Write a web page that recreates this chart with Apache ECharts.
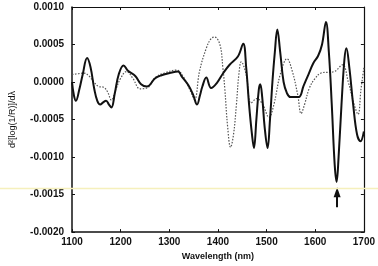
<!DOCTYPE html>
<html>
<head>
<meta charset="utf-8">
<script src="https://cdn.jsdelivr.net/npm/echarts@6/dist/echarts.min.js"></script>
<style>
  html, body { margin: 0; padding: 0; background: #fff; }
  #chart { width: 378px; height: 266px; }
</style>
</head>
<body>
<div id="chart"></div>
<script>
// wavelength (nm) / second derivative values
var solidNm = [1100, 1104, 1108, 1115, 1122, 1131, 1138, 1146, 1152, 1158, 1164, 1170, 1176, 1181, 1188, 1196, 1206, 1215, 1230, 1242,
    1254, 1271, 1284, 1301, 1318, 1325, 1339, 1349, 1357, 1363, 1368, 1376, 1386, 1398, 1411, 1424, 1441, 1452, 1458, 1464,
    1470, 1474, 1479, 1484, 1487, 1491, 1496, 1502, 1507, 1512, 1517, 1522, 1528, 1535, 1542, 1549, 1566, 1576, 1586, 1596,
    1606, 1614, 1622, 1628, 1634, 1640, 1644, 1648, 1654, 1660, 1664, 1670, 1678, 1686, 1693, 1700];
var solidVal = [0.0000, -0.00018, -0.00025, -0.0001, 0.0001, 0.00032, 0.0002, -0.0001, -0.00025, -0.0003, -0.00027, -0.00025, -0.0003, -0.00034, -0.00015, 0.0001, 0.00022, 0.00015, 0.00008, -0.00003,
    -0.00006, 0.00005, 0.00009, 0.00012, 0.00014, 0.00008, -0.00004, -0.00017, -0.0003, -0.00018, -0.00006, 0.00006, -0.00008, -0.00001, 0.00012, 0.00023, 0.00034, 0.00051, 0.0002, -0.0003,
    -0.0007, -0.00088, -0.0005, -0.0001, -0.00003, -0.0002, -0.0006, -0.00088, -0.0005, 0.0000, 0.0004, 0.0007, 0.0004, 0.0000, -0.00015, -0.0002, -0.0002, -0.00005, 0.0001, 0.00025,
    0.00035, 0.0005, 0.0008, 0.0004, -0.0003, -0.0011, -0.00133, -0.001, -0.0003, 0.0003, 0.00045, 0.0002, -0.0003, -0.0007, -0.00079, -0.00066];

var dotNm = [1100, 1112, 1124, 1135, 1145, 1155, 1165, 1173, 1181, 1190, 1200, 1212, 1225, 1240, 1254, 1271, 1290, 1315, 1328, 1342,
    1352, 1362, 1376, 1386, 1393, 1404, 1410, 1414, 1420, 1426, 1432, 1438, 1443, 1448, 1458, 1468, 1480, 1492, 1505, 1515,
    1528, 1542, 1553, 1564, 1571, 1578, 1588, 1600, 1612, 1639, 1656, 1668, 1680, 1688, 1694, 1700];
var dotVal = [0.0001, 0.00011, 0.00012, 0.00008, 0.0, -0.00006, -0.00007, -0.00013, -0.00024, -0.0001, 0.00005, 0.00014, 0.00005, -0.00009, -0.00008, 0.00006, 0.00012, 0.00016, 0.00008, -0.0001,
    -0.00023, 0.00014, 0.00045, 0.00058, 0.0006, 0.0005, 0.0002, -0.00008, -0.0006, -0.00087, -0.0007, -0.0003, 0.0001, 0.00027, 0.0001, -0.00028, -0.00022, -0.0003, -0.00047, -0.0003,
    0.0001, 0.00031, 0.00014, -0.00017, -0.00042, -0.0003, -0.00008, 0.00005, 0.00012, 0.00014, 0.00023, 0.0, -0.0003, -0.00043, -0.0001, 0.00019];

// arrow under the 1645 nm band
var arrowNm = 1645;
var arrowFrom = -0.00167;
var arrowTo = -0.00147;

function pairs(xs, ys) {
    var res = [];
    for (var i = 0; i < xs.length; i++) {
        res.push([xs[i], ys[i]]);
    }
    return res;
}

var myChart = echarts.init(document.getElementById('chart'));

var axisFont = { color: '#111', fontFamily: 'Liberation Sans', fontWeight: 'bold', fontSize: 10 };

var option = {
    animation: false,
    backgroundColor: '#fff',
    grid: { left: 71, top: 7, right: 12, bottom: 33 },
    xAxis: [{
        type: 'value',
        min: 1100, max: 1700, interval: 100,
        name: 'Wavelength (nm)',
        nameLocation: 'middle',
        nameGap: 19,
        nameTextStyle: { color: '#111', fontFamily: 'Liberation Sans', fontWeight: 'bold', fontSize: 9 },
        axisLine: { onZero: false, lineStyle: { color: '#111', width: 1.5 } },
        axisTick: { inside: true, length: 3, lineStyle: { color: '#111' } },
        axisLabel: Object.assign({ margin: 5, formatter: function (v) { return String(v); } }, axisFont),
        splitLine: { show: false }
    }, {
        type: 'value', position: 'top',
        min: 1100, max: 1700, interval: 100,
        axisLine: { show: true, onZero: false, lineStyle: { color: '#111', width: 1.2 } },
        axisTick: { inside: true, length: 3, lineStyle: { color: '#111' } },
        axisLabel: { show: false },
        splitLine: { show: false }
    }],
    yAxis: [{
        type: 'value',
        min: -0.002, max: 0.001, interval: 0.0005,
        name: 'd\u00b2[log(1/R)]/d\u03bb',
        nameLocation: 'middle',
        nameGap: 55,
        nameTextStyle: { color: '#111', fontFamily: 'Liberation Sans', fontSize: 9 },
        axisLine: { show: true, onZero: false, lineStyle: { color: '#111', width: 1.5 } },
        axisTick: { show: true, inside: true, length: 3, lineStyle: { color: '#111' } },
        axisLabel: Object.assign({ margin: 8, formatter: function (v) { return v.toFixed(4); } }, axisFont),
        splitLine: { show: false }
    }, {
        type: 'value', position: 'right',
        min: -0.002, max: 0.001, interval: 0.0005,
        axisLine: { show: true, onZero: false, lineStyle: { color: '#111', width: 1.2 } },
        axisTick: { show: true, inside: true, length: 3, lineStyle: { color: '#111' } },
        axisLabel: { show: false },
        splitLine: { show: false }
    }],
    series: [{
        type: 'line',
        data: pairs(dotNm, dotVal),
        smooth: 0.4,
        showSymbol: false,
        lineStyle: { color: '#555', width: 1.2, type: [1.5, 1.5] }
    }, {
        type: 'line',
        data: pairs(solidNm, solidVal),
        smooth: 0.4,
        showSymbol: false,
        lineStyle: { color: '#111', width: 2 },
        markLine: {
            silent: true,
            symbol: ['none', 'triangle'],
            symbolSize: [7, 10],
            label: { show: false },
            lineStyle: { color: '#111', width: 2, type: 'solid' },
            data: [[{ coord: [arrowNm, arrowFrom] }, { coord: [arrowNm, arrowTo] }]]
        }
    }],
    graphic: [{
        type: 'line',
        shape: { x1: 0, y1: 188.5, x2: 378, y2: 188.5 },
        style: { stroke: '#f5f0bc', lineWidth: 1.5 },
        z: 100
    }]
};

myChart.setOption(option);
</script>
</body>
</html>
